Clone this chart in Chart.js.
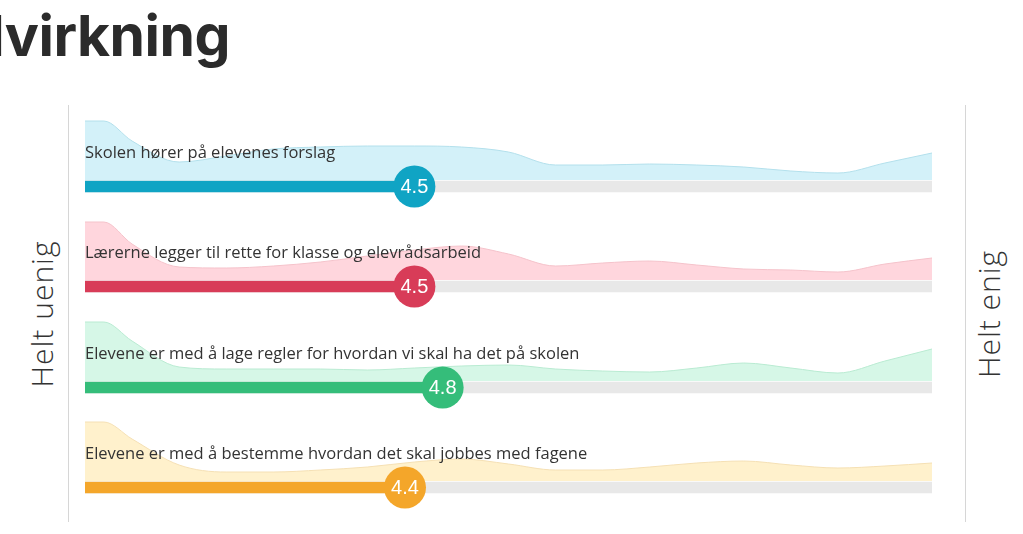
<!DOCTYPE html>
<html>
<head>
<meta charset="utf-8">
<script src="https://cdn.jsdelivr.net/npm/chart.js@4.4.0/dist/chart.umd.min.js"></script>
<style>
  body { margin: 0; width: 1023px; height: 534px; overflow: hidden; background: #fff; position: relative; font-family: "Open Sans", sans-serif; }
  #title { position: absolute; right: 793px; top: 7px; font-family: Inter, sans-serif; font-weight: 700; font-size: 57px; line-height: 57px; color: #2b2b2b; white-space: nowrap; letter-spacing: -0.5px; }
  .vline { position: absolute; top: 105px; height: 417px; width: 1px; background: #d6d6d6; }
  .side { position: absolute; top: 314px; font-weight: 300; font-size: 30px; letter-spacing: 1px; color: #333; white-space: nowrap; transform: translate(-50%, -50%) rotate(-90deg); }
  canvas.row { position: absolute; left: 0; }
</style>
</head>
<body>
<div id="title">Medvirkning</div>
<div class="vline" style="left:68px"></div>
<div class="vline" style="left:965px"></div>
<div class="side" style="left:41px">Helt uenig</div>
<div class="side" style="left:988px">Helt enig</div>

<canvas class="row" id="row0" width="1023" height="100" style="top:112px"></canvas>
<canvas class="row" id="row1" width="1023" height="100" style="top:212px"></canvas>
<canvas class="row" id="row2" width="1023" height="100" style="top:313px"></canvas>
<canvas class="row" id="row3" width="1023" height="100" style="top:413px"></canvas>

<script>
// Spørsmål
const questions = [
  'Skolen hører på elevenes forslag',
  'Lærerne legger til rette for klasse og elevrådsarbeid',
  'Elevene er med å lage regler for hvordan vi skal ha det på skolen',
  'Elevene er med å bestemme hvordan det skal jobbes med fagene'
];

// Gjennomsnitt (skala 1-10)
const averages = [4.5, 4.5, 4.8, 4.4];

// Fordeling av svar langs skalaen
const densX = [1, 1.2, 1.5, 2, 2.5, 3, 3.5, 4, 4.5, 5, 5.5, 6, 6.5, 7, 7.5, 8, 8.5, 9, 9.5, 10];
const dens0 = [29.5, 29.5, 19.5, 9, 12, 15.5, 16.5, 17, 17, 16.5, 14, 7.5, 7.5, 8, 7.5, 6.5, 4.5, 3.5, 8.5, 13.5];
const dens1 = [29, 29, 18, 6.5, 6, 7, 9, 12, 15, 17, 13, 7, 8.5, 9.5, 7.5, 5.5, 5, 4, 8, 11];
const dens2 = [29.5, 29.5, 20, 7, 6, 6, 6, 5.5, 6.5, 7.5, 8, 6, 5, 4.5, 6.5, 9, 6.5, 4, 10, 16];
const dens3 = [29.5, 29.5, 21, 8, 4.5, 4.5, 5.5, 7, 9.5, 11, 8.5, 5.5, 5.5, 7, 9, 10, 8, 6.5, 7.5, 9];
const densities = [dens0, dens1, dens2, dens3];

const colors = ['#10a4c4', '#d83c58', '#35bd7a', '#f4a62a'];
const areaFill = ['#d3f1f9', '#ffd6dd', '#d6f7e7', '#fff1cc'];
const areaLine = ['#b3e0ec', '#f5c3cb', '#b9ebd2', '#f5e0b4'];

const BAR_Y = -3.25;

const rowText = {
  id: 'rowText',
  afterDatasetsDraw(chart, args, opts) {
    const ctx = chart.ctx;
    const xs = chart.scales.x, ys = chart.scales.y;
    ctx.save();
    ctx.font = '16.5px "Open Sans"';
    ctx.fillStyle = '#333';
    ctx.textBaseline = 'middle';
    ctx.fillText(opts.label, xs.getPixelForValue(1), ys.getPixelForValue(0) - 27);
    const dot = chart.getDatasetMeta(3).data[0];
    ctx.font = '20px "Liberation Sans"';
    ctx.fillStyle = '#fff';
    ctx.textAlign = 'center';
    ctx.fillText(opts.value.toFixed(1), dot.x, dot.y + 1);
    ctx.restore();
  }
};

questions.forEach((q, i) => {
  const ctx = document.getElementById('row' + i).getContext('2d');
  new Chart(ctx, {
    type: 'line',
    data: {
      datasets: [{
        type: 'line',
        data: densX.map((x, k) => ({ x: x, y: densities[i][k] })),
        fill: 'origin',
        backgroundColor: areaFill[i],
        borderColor: areaLine[i],
        borderWidth: 1,
        pointRadius: 0,
        cubicInterpolationMode: 'monotone',
        order: 4
      }, {
        type: 'bar',
        indexAxis: 'y',
        data: [{ x: [1, 10], y: BAR_Y }],
        backgroundColor: '#e8e8e8',
        barThickness: 11,
        grouped: false,
        order: 3
      }, {
        type: 'bar',
        indexAxis: 'y',
        data: [{ x: [1, averages[i]], y: BAR_Y }],
        backgroundColor: colors[i],
        barThickness: 11,
        grouped: false,
        order: 2
      }, {
        type: 'scatter',
        data: [{ x: averages[i], y: BAR_Y }],
        pointRadius: 21,
        pointBackgroundColor: colors[i],
        pointBorderWidth: 0,
        clip: false,
        order: 1
      }]
    },
    options: {
      responsive: false,
      animation: false,
      events: [],
      layout: { autoPadding: false, padding: { left: 85, right: 91, top: 0, bottom: 0 } },
      scales: {
        x: { type: 'linear', min: 1, max: 10, display: false, offset: false },
        y: { type: 'linear', min: -16, max: 34, display: false, offset: false }
      },
      plugins: {
        legend: { display: false },
        tooltip: { enabled: false },
        rowText: { label: q, value: averages[i] }
      }
    },
    plugins: [rowText]
  });
});
</script>
</body>
</html>
